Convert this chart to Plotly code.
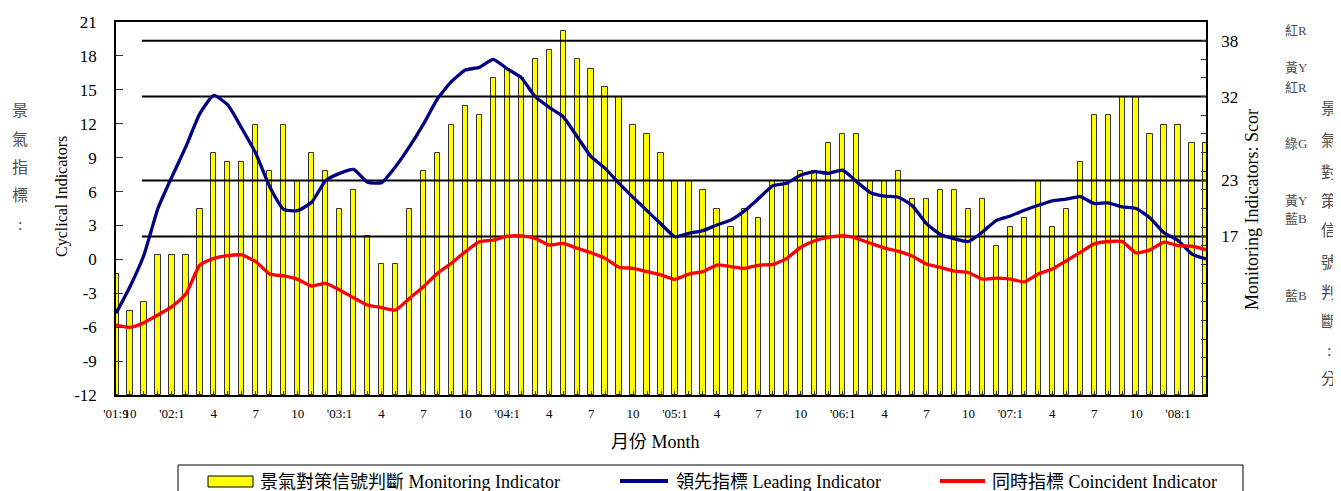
import pandas as pd
import plotly.graph_objects as go

# ---------------- data ----------------
MONTHS = [str(p) for p in pd.period_range("2001-09", "2008-03", freq="M")]

SCORE = [13, 9, 10, 15, 15, 15, 20, 26, 25, 25, 29, 24, 29, 23, 26, 24, 20, 22, 17, 14,
         14, 20, 24, 26, 29, 31, 30, 34, 35, 34, 36, 37, 39, 36, 35, 33, 32, 29, 28, 26,
         23, 23, 22, 20, 18, 20, 19, 23, 23, 24, 24, 27, 28, 28, 23, 23, 24, 21, 21, 22,
         22, 20, 21, 16, 18, 19, 23, 18, 20, 25, 30, 30, 32, 32, 28, 29, 29, 27, 27]

LEADING = [-4.77, -2.42, 0.39, 4.5, 7.3, 9.97, 12.9, 14.5, 13.66, 11.6, 9.38, 6.43, 4.43,
           4.31, 5.05, 6.96, 7.61, 7.96, 6.82, 6.79, 8.2, 9.97, 11.97, 14.19, 15.72, 16.75,
           16.99, 17.7, 16.85, 16.08, 14.39, 13.45, 12.62, 10.86, 9.08, 8.05, 6.73, 5.49,
           4.31, 3.13, 2.0, 2.3, 2.54, 3.04, 3.48, 4.31, 5.4, 6.52, 6.73, 7.46, 7.76, 7.61,
           7.9, 6.87, 5.9, 5.6, 5.5, 4.73, 3.16, 2.2, 1.82, 1.58, 2.41, 3.45, 3.84, 4.35,
           4.79, 5.18, 5.33, 5.54, 4.94, 5.0, 4.64, 4.5, 3.66, 2.35, 1.67, 0.47, 0.03]

COINCIDENT = [-5.81, -6.01, -5.6, -4.92, -4.18, -3.06, -0.5, 0.09, 0.33, 0.39, -0.2, -1.3,
              -1.47, -1.77, -2.36, -2.12, -2.71, -3.39, -4.04, -4.27, -4.48, -3.45, -2.42,
              -1.24, -0.35, 0.68, 1.56, 1.71, 2.05, 2.07, 1.86, 1.27, 1.42, 0.98, 0.59, 0.09,
              -0.7, -0.79, -1.09, -1.38, -1.77, -1.3, -1.09, -0.5, -0.65, -0.79, -0.5, -0.44,
              0.09, 1.07, 1.65, 1.95, 2.1, 1.86, 1.42, 1.0, 0.7, 0.27, -0.41, -0.71, -1.04,
              -1.16, -1.75, -1.66, -1.75, -1.99, -1.3, -0.86, -0.12, 0.62, 1.37, 1.58, 1.58,
              0.57, 0.84, 1.52, 1.22, 1.16, 0.86]

TICK_MONTHS = ["2001-09", "2001-10", "2002-01", "2002-04", "2002-07", "2002-10", "2003-01",
               "2003-04", "2003-07", "2003-10", "2004-01", "2004-04", "2004-07", "2004-10",
               "2005-01", "2005-04", "2005-07", "2005-10", "2006-01", "2006-04", "2006-07",
               "2006-10", "2007-01", "2007-04", "2007-07", "2007-10", "2008-01"]
TICK_LABELS = ["'01:9", "10", "'02:1", "4", "7", "10", "'03:1", "4", "7", "10", "'04:1", "4",
               "7", "10", "'05:1", "4", "7", "10", "'06:1", "4", "7", "10", "'07:1", "4", "7",
               "10", "'08:1"]

LEFT_TICKS = [-12, -9, -6, -3, 0, 3, 6, 9, 12, 15, 18, 21]
SCORE_THRESHOLDS = [38, 32, 23, 17]
SCORE_TICKS = [17, 23, 32, 38]
SIGNAL_LABELS = [("紅R", 30), ("黃Y", 68), ("紅R", 87), ("綠G", 143), ("黃Y", 200),
                 ("藍B", 218), ("藍B", 295)]
LEFT_VERTICAL = ["景", "氣", "指", "標", ":"]
RIGHT_VERTICAL = ["景", "氣", "對", "策", "信", "號", "判", "斷", ":", "分"]

# ---------------- layout constants ----------------
OFF = 8                      # page body margin of the html page
W, H = 1341 - OFF, 491 - OFF
PLOT_L, PLOT_R, PLOT_T, PLOT_B = 116, 1206, 22, 395   # target page pixels
PW, PH = PLOT_R - PLOT_L, PLOT_B - PLOT_T
L, T = PLOT_L - OFF, PLOT_T - OFF
R = W - L - PW
B = H - T - PH
SERIF = "Liberation Serif, Times New Roman, Noto Sans CJK TC"
GREY = "#4d4d4d"


def px(X):
    return (X - PLOT_L) / PW


def py(Y):
    return (PLOT_B - Y) / PH


x = list(range(len(MONTHS)))
tickvals = [MONTHS.index(m) for m in TICK_MONTHS]
thresh_start = 1.85

fig = go.Figure()
fig.add_trace(go.Bar(x=x, y=SCORE, yaxis="y", width=0.38,
                     marker=dict(color="#FFFF00", line=dict(color="#333333", width=1)),
                     name="景氣對策信號判斷 Monitoring Indicator", showlegend=False))
tx, ty = [], []
for s in SCORE_THRESHOLDS:
    tx += [thresh_start, x[-1], None]
    ty += [s, s, None]
fig.add_trace(go.Scatter(x=tx, y=ty, yaxis="y", mode="lines",
                         line=dict(color="black", width=2), showlegend=False,
                         hoverinfo="skip"))
fig.add_trace(go.Scatter(x=x, y=LEADING, yaxis="y2", mode="lines",
                         line=dict(color="#000080", width=3.3, shape="spline", smoothing=0.5),
                         name="領先指標 Leading Indicator", showlegend=False))
fig.add_trace(go.Scatter(x=x, y=COINCIDENT, yaxis="y2", mode="lines",
                         line=dict(color="#FF0000", width=3.3, shape="spline", smoothing=0.5),
                         name="同時指標 Coincident Indicator", showlegend=False))

fig.update_layout(
    width=W, height=H,
    margin=dict(l=L, r=R, t=T, b=B, autoexpand=False),
    paper_bgcolor="white", plot_bgcolor="white",
    font=dict(family=SERIF, color="black"),
    bargap=0,
    xaxis=dict(range=[0, x[-1]], tickmode="array", tickvals=tickvals, ticktext=TICK_LABELS,
               tickangle=0,
               showgrid=False, zeroline=False, showline=True, linecolor="black", linewidth=1.5,
               mirror=True, ticks="inside", ticklen=4, tickcolor="#333",
               minor=dict(dtick=1, ticks="inside", ticklen=4, tickcolor="#333"),
               tickfont=dict(size=13, family=SERIF), ticklabelstandoff=6),
    yaxis=dict(range=[0, 40], side="right", tickmode="array", tickvals=SCORE_TICKS,
               ticktext=[str(v) for v in SCORE_TICKS], showgrid=False, zeroline=False,
               showline=True, linecolor="black", linewidth=1.5, ticks="inside", ticklen=5,
               tickcolor="#333",
               minor=dict(dtick=2, ticks="inside", ticklen=5, tickcolor="#333"),
               tickfont=dict(size=17, family=SERIF), ticklabelstandoff=10),
    yaxis2=dict(range=[-12, 21], side="left", overlaying="y", tickmode="array",
                tickvals=LEFT_TICKS, ticktext=[str(v) for v in LEFT_TICKS],
                showgrid=False, zeroline=False, showline=True, linecolor="black",
                linewidth=1.5, ticks="inside", ticklen=7, tickcolor="#333",
                tickfont=dict(size=17, family=SERIF), ticklabelstandoff=14),
    showlegend=False,
)

ann = []
ann.append(dict(x=px(62), y=py(197), text="Cyclical Indicators", textangle=-90,
                font=dict(size=16, family=SERIF)))
ann.append(dict(x=px(1252), y=py(210), text="Monitoring Indicators: Scor", textangle=-90,
                font=dict(size=18, family=SERIF)))
ann.append(dict(x=px(655), y=py(442), text="月份 Month", font=dict(size=18, family=SERIF)))
for ch, Y in zip(LEFT_VERTICAL, [110, 139, 167, 195, 224]):
    ann.append(dict(x=px(20), y=py(Y), text=ch, font=dict(size=16, family=SERIF, color=GREY)))
for ch, Y in zip(RIGHT_VERTICAL, [108, 140, 172, 201, 231, 262, 292, 321, 350, 378]):
    ann.append(dict(x=px(1329), y=py(Y), text=ch, font=dict(size=16, family=SERIF, color=GREY)))
for t, Y in SIGNAL_LABELS:
    ann.append(dict(x=px(1283), y=py(Y), text=t, xanchor="left",
                    font=dict(size=13, family=SERIF, color=GREY)))
for t, X in [("景氣對策信號判斷 Monitoring Indicator", 258),
             ("領先指標 Leading Indicator", 674),
             ("同時指標 Coincident Indicator", 990)]:
    ann.append(dict(x=px(X), y=py(482), text=t, xanchor="left",
                    font=dict(size=18, family=SERIF)))
for a in ann:
    a.update(xref="paper", yref="paper", showarrow=False,
             xanchor=a.get("xanchor", "center"), yanchor="middle")
fig.update_layout(annotations=ann)

shapes = [
    dict(type="rect", xref="paper", yref="paper", x0=px(178), x1=px(1243), y0=py(465),
         y1=py(510), line=dict(color="black", width=1), fillcolor="white", layer="below"),
    dict(type="rect", xref="paper", yref="paper", x0=px(208), x1=px(253), y0=py(476),
         y1=py(487), line=dict(color="black", width=1), fillcolor="#FFFF00"),
    dict(type="line", xref="paper", yref="paper", x0=px(620), x1=px(668), y0=py(481),
         y1=py(481), line=dict(color="#000080", width=4)),
    dict(type="line", xref="paper", yref="paper", x0=px(940), x1=px(985), y0=py(481),
         y1=py(481), line=dict(color="#FF0000", width=4)),
]
fig.update_layout(shapes=shapes)

fig.write_html("out.html")
